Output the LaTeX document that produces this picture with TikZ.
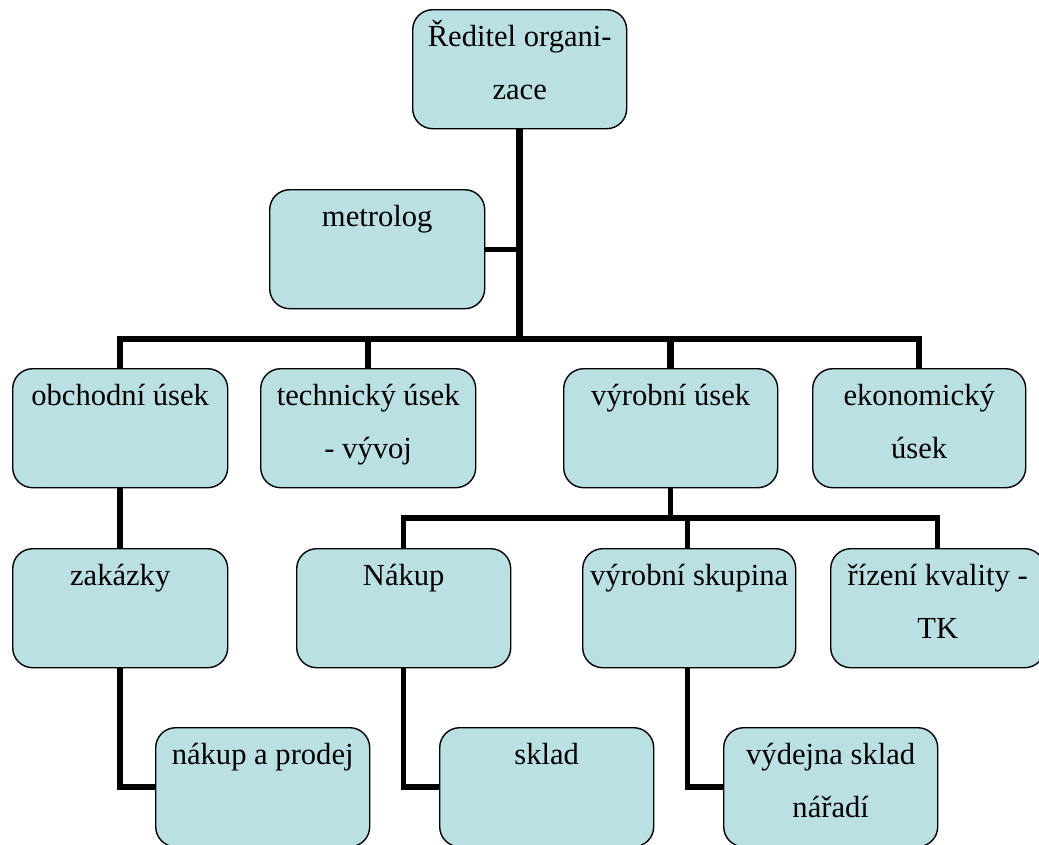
\documentclass[tikz,border=0pt]{standalone}
\usepackage{fontspec}
\setmainfont{Liberation Serif}
\usetikzlibrary{backgrounds}
\definecolor{boxfill}{RGB}{187,224,227}
\tikzset{
  box/.style={draw=black, line width=1.4pt, fill=boxfill, rounded corners=20pt,
    minimum width=214pt, minimum height=119pt, inner sep=0pt, anchor=north west},
  lbl/.style={anchor=north, inner sep=0pt, align=center, yshift=-7pt,
    font=\fontsize{30.6}{53}\selectfont},
  trunk/.style={line width=6.5pt, line cap=rect, line join=miter},
  branch/.style={line width=5.5pt, line cap=rect, line join=miter},
}
\newcommand{\fl}{\rule{0pt}{30pt}}
\begin{document}
\begin{tikzpicture}[x=1pt, y=-1pt]
\useasboundingbox (0,0) rectangle (1039,844);
\clip (0,0) rectangle (1039,844);

% boxes
\node[box] (dir)   at (412,9)   {};
\node[box, minimum width=215pt] (metro) at (269,189) {};
\node[box, minimum width=215pt] (obch)  at (12,368)  {};
\node[box, minimum width=215pt] (tech)  at (260,368) {};
\node[box] (vyr)   at (563,368) {};
\node[box, minimum width=213pt] (ekon)  at (812,368) {};
\node[box, minimum width=215pt] (zak)   at (12,548)  {};
\node[box] (nakup) at (296,548) {};
\node[box, minimum width=213pt] (vskup) at (582,548) {};
\node[box] (rizeni) at (830,548) {};
\node[box] (nap)   at (155,727) {};
\node[box] (skl)   at (439,727) {};
\node[box] (vyd)   at (723,727) {};

% labels
\node[lbl] (dir-t)    at (dir.north)    {\fl Ředitel organi-\\zace};
\node[lbl] (metro-t)  at (metro.north)  {\fl metrolog};
\node[lbl] (obch-t)   at (obch.north)   {\fl obchodní úsek};
\node[lbl] (tech-t)   at (tech.north)   {\fl technický úsek\\- vývoj};
\node[lbl] (vyr-t)    at (vyr.north)    {\fl výrobní úsek};
\node[lbl] (ekon-t)   at (ekon.north)   {\fl ekonomický\\úsek};
\node[lbl] (zak-t)    at (zak.north)    {\fl zakázky};
\node[lbl] (nakup-t)  at (nakup.north)  {\fl Nákup};
\node[lbl] (vskup-t)  at (vskup.north)  {\fl výrobní skupina};
\node[lbl] (rizeni-t) at (rizeni.north) {\fl řízení kvality -\\TK};
\node[lbl] (nap-t)    at (nap.north)    {\fl nákup a prodej};
\node[lbl] (skl-t)    at (skl.north)    {\fl sklad};
\node[lbl] (vyd-t)    at (vyd.north)    {\fl výdejna sklad\\nářadí};

% bus levels
\coordinate (busA) at (0,339);
\coordinate (busB) at (0,518);

% connectors
\begin{pgfonlayer}{background}
\draw[trunk] (dir.south) -- (dir.south |- busA);
\draw[branch, line width=5pt] (metro.east) -- (metro.east -| dir.south);
\draw[trunk] (obch.north) -- (obch.north |- busA) -- (ekon.north |- busA) -- (ekon.north);
\draw[trunk] (tech.north) -- (tech.north |- busA);
\draw[trunk] (vyr.north) -- (vyr.north |- busA);

\draw[branch] (vyr.south) -- (vyr.south |- busB);
\draw[branch] (nakup.north) -- (nakup.north |- busB) -- (rizeni.north |- busB) -- (rizeni.north);
\draw[branch] ([xshift=-1.5pt]vskup.north) -- ([xshift=-1.5pt]vskup.north |- busB);

\draw[branch] (obch.south) -- (zak.north);
\draw[branch] (zak.south) |- (nap.west);
\draw[branch] (nakup.south) |- (skl.west);
\draw[branch] ([xshift=-1.5pt]vskup.south) |- (vyd.west);
\end{pgfonlayer}
\end{tikzpicture}
\end{document}
